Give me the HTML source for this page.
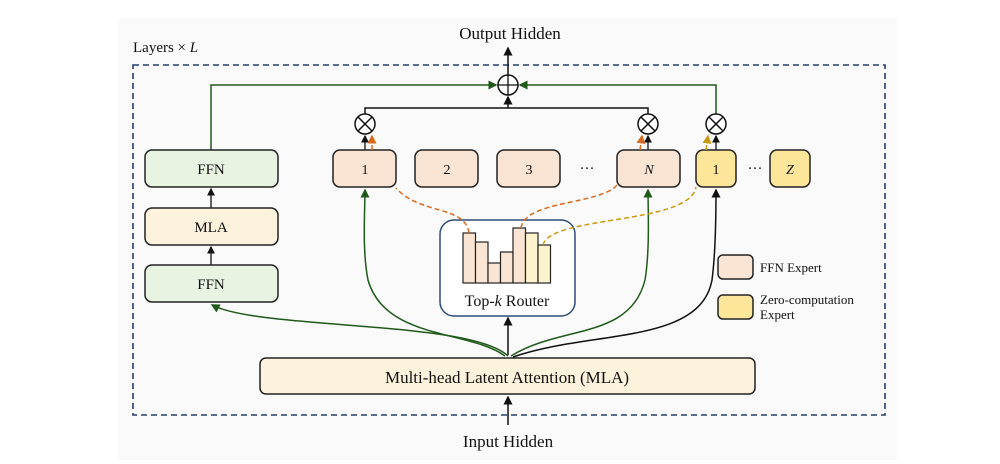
<!DOCTYPE html>
<html><head><style>body{margin:0;background:#fff}svg{display:block}text{font-family:"Liberation Serif",serif;fill:#111}</style></head><body>
<svg width="1000" height="464" viewBox="0 0 1000 464" xmlns="http://www.w3.org/2000/svg">
<defs>
<marker id="ab" markerWidth="6" markerHeight="6" refX="5" refY="3" orient="auto"><path d="M0,0L6,3L0,6z" fill="#111"/></marker>
<marker id="ag" markerWidth="6" markerHeight="6" refX="5" refY="3" orient="auto"><path d="M0,0L6,3L0,6z" fill="#1f5a1a"/></marker>
<marker id="ao" markerWidth="6" markerHeight="6" refX="5" refY="3" orient="auto"><path d="M0,0L6,3L0,6z" fill="#d9691c"/></marker>
<marker id="ay" markerWidth="6" markerHeight="6" refX="5" refY="3" orient="auto"><path d="M0,0L6,3L0,6z" fill="#c89a10"/></marker>
</defs>
<rect x="118" y="18" width="779" height="442" fill="#fafafa"/>
<text x="133" y="52" font-size="15">Layers × <tspan font-style="italic">L</tspan></text>
<text x="510" y="39" font-size="17" text-anchor="middle">Output Hidden</text>
<rect x="133" y="65" width="752" height="350" fill="none" stroke="#263d6e" stroke-width="1.6" stroke-dasharray="6,4"/>
<line x1="508" y1="75" x2="508" y2="48" stroke="#111" stroke-width="1.5" marker-end="url(#ab)"/>
<circle cx="508" cy="85" r="10" fill="#fff" stroke="#111" stroke-width="1.5"/>
<path d="M498,85h20M508,75v20" stroke="#111" stroke-width="1.3"/>
<path d="M211,150V85H496" fill="none" stroke="#1f5a1a" stroke-width="1.5" marker-end="url(#ag)"/>
<path d="M716,114V85H520" fill="none" stroke="#1f5a1a" stroke-width="1.5" marker-end="url(#ag)"/>
<path d="M365,114V108H648V114" fill="none" stroke="#111" stroke-width="1.5"/>
<line x1="508" y1="108" x2="508" y2="97" stroke="#111" stroke-width="1.5" marker-end="url(#ab)"/>
<g stroke="#111" stroke-width="1.5" fill="#fff">
<circle cx="365" cy="124" r="10"/><circle cx="648" cy="124" r="10"/><circle cx="716" cy="124" r="10"/>
<path d="M358,117l14,14M372,117l-14,14M641,117l14,14M655,117l-14,14M709,117l14,14M723,117l-14,14"/>
</g>
<g stroke="#111" stroke-width="1.3">
<line x1="365" y1="150" x2="365" y2="136" marker-end="url(#ab)"/>
<line x1="648" y1="150" x2="648" y2="136" marker-end="url(#ab)"/>
<line x1="716" y1="150" x2="716" y2="136" marker-end="url(#ab)"/>
<line x1="211" y1="208" x2="211" y2="189" marker-end="url(#ab)"/>
<line x1="211" y1="265" x2="211" y2="247" marker-end="url(#ab)"/>
</g>
<g stroke="#222" stroke-width="1.5">
<rect x="145" y="150" width="133" height="37" rx="7" fill="#e8f3e2"/>
<rect x="145" y="208" width="133" height="37" rx="7" fill="#fdf3dd"/>
<rect x="145" y="265" width="133" height="37" rx="7" fill="#e8f3e2"/>
<rect x="333" y="150" width="63" height="37" rx="7" fill="#fae5d4"/>
<rect x="415" y="150" width="63" height="37" rx="7" fill="#fae5d4"/>
<rect x="497" y="150" width="63" height="37" rx="7" fill="#fae5d4"/>
<rect x="617" y="150" width="63" height="37" rx="7" fill="#fae5d4"/>
<rect x="696" y="150" width="40" height="37" rx="7" fill="#fde69a"/>
<rect x="770" y="150" width="40" height="37" rx="7" fill="#fde69a"/>
<rect x="260" y="358" width="495" height="36" rx="6" fill="#fdf3dd"/>
<rect x="718" y="255" width="35" height="24" rx="5" fill="#fae5d4"/>
<rect x="718" y="295" width="35" height="24" rx="5" fill="#fde69a"/>
</g>
<rect x="440" y="220" width="135" height="96" rx="14" fill="#fff" stroke="#2d4a7a" stroke-width="1.5"/>
<g stroke="#222" stroke-width="1.2">
<rect x="463" y="233" width="12.5" height="50" fill="#fae5d4"/>
<rect x="475.5" y="242" width="12.5" height="41" fill="#fae5d4"/>
<rect x="488" y="263" width="12.5" height="20" fill="#fae5d4"/>
<rect x="500.5" y="252" width="12.5" height="31" fill="#fae5d4"/>
<rect x="513" y="228" width="12.5" height="55" fill="#fae5d4"/>
<rect x="525.5" y="233" width="12.5" height="50" fill="#fdf3cc"/>
<rect x="538" y="245" width="12.5" height="38" fill="#fdf3cc"/>
</g>
<g font-size="15" text-anchor="middle">
<text x="211" y="174">FFN</text><text x="211" y="232">MLA</text><text x="211" y="289">FFN</text>
<text x="365" y="174" font-size="14">1</text><text x="447" y="174" font-size="14">2</text><text x="529" y="174" font-size="14">3</text>
<text x="649" y="174" font-size="14" font-style="italic">N</text><text x="716" y="174" font-size="14">1</text><text x="790" y="174" font-size="14" font-style="italic">Z</text>
<text x="587" y="173">···</text><text x="755" y="173">···</text>
<text x="507" y="306" font-size="16">Top-<tspan font-style="italic">k</tspan> Router</text>
<text x="507" y="383" font-size="17">Multi-head Latent Attention (MLA)</text>
<text x="508" y="447" font-size="17">Input Hidden</text>
</g>
<g font-size="13"><text x="760" y="272">FFN Expert</text><text x="760" y="304">Zero-computation</text><text x="760" y="319">Expert</text></g>
<line x1="508" y1="425" x2="508" y2="397" stroke="#111" stroke-width="1.5" marker-end="url(#ab)"/>
<line x1="508" y1="355" x2="508" y2="318" stroke="#111" stroke-width="1.5" marker-end="url(#ab)"/>
<g fill="none" stroke-width="1.5">
<path d="M508,356C470,320 260,330 212,305" stroke="#1f5a1a" marker-end="url(#ag)"/>
<path d="M505,356C470,330 385,340 368,280C362,250 365,210 365,190" stroke="#1f5a1a" marker-end="url(#ag)"/>
<path d="M511,356C560,325 630,340 645,280C650,250 648,210 648,190" stroke="#1f5a1a" marker-end="url(#ag)"/>
<path d="M513,357C590,330 700,345 712,280C716,250 716,210 716,190" stroke="#111" marker-end="url(#ab)"/>
</g>
<g fill="none" stroke-width="1.5" stroke-dasharray="5,3">
<path d="M469,233C465,205 420,215 396,188" stroke="#d9691c"/>
<path d="M521,228C525,200 600,205 617,185" stroke="#d9691c"/>
<path d="M543,245C550,215 690,225 696,187" stroke="#c89a10"/>
<path d="M372,150L372,136" stroke="#d9691c" marker-end="url(#ao)"/>
<path d="M640,150L642,136" stroke="#d9691c" marker-end="url(#ao)"/>
<path d="M706,150L708,136" stroke="#c89a10" marker-end="url(#ay)"/>
</g>
</svg>
</body></html>
